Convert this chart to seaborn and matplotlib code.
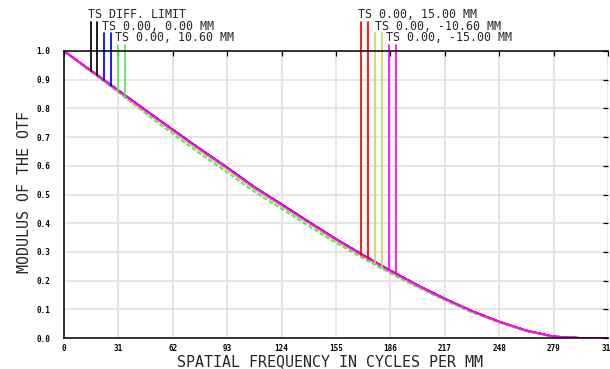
import numpy as np
import pandas as pd
import matplotlib
matplotlib.use("Agg")
import matplotlib.pyplot as plt
import seaborn as sns

# ---------------- data ----------------
freq = [0, 15.5, 31, 46.5, 62, 77.5, 93, 108.5, 124, 139.5, 155, 170.5,
        186, 201.5, 217, 232.5, 248, 263.5, 279, 294.5, 310]

diff_limit = [1.000, 0.931, 0.863, 0.794, 0.726, 0.659, 0.594, 0.526, 0.466, 0.405, 0.345,
              0.289, 0.235, 0.184, 0.137, 0.094, 0.057, 0.026, 0.005, 0.000, 0.000]
f000_T = [1.000, 0.930, 0.861, 0.792, 0.724, 0.657, 0.592, 0.524, 0.464, 0.403, 0.343,
          0.287, 0.233, 0.183, 0.136, 0.093, 0.056, 0.025, 0.005, 0.000, 0.000]
f000_S = [1.000, 0.930, 0.861, 0.792, 0.724, 0.657, 0.592, 0.524, 0.464, 0.403, 0.343,
          0.287, 0.233, 0.183, 0.136, 0.093, 0.056, 0.025, 0.005, 0.000, 0.000]
f1060_T = [1.000, 0.928, 0.858, 0.788, 0.719, 0.652, 0.587, 0.519, 0.459, 0.399, 0.339,
           0.284, 0.230, 0.180, 0.134, 0.091, 0.055, 0.025, 0.004, 0.000, 0.000]
f1060_S = [1.000, 0.927, 0.855, 0.782, 0.711, 0.642, 0.577, 0.509, 0.450, 0.390, 0.331,
           0.277, 0.225, 0.176, 0.131, 0.089, 0.054, 0.024, 0.004, 0.000, 0.000]
f1500_T = [1.000, 0.930, 0.861, 0.792, 0.723, 0.656, 0.591, 0.523, 0.463, 0.402, 0.342,
           0.286, 0.232, 0.182, 0.135, 0.093, 0.056, 0.025, 0.005, 0.000, 0.000]
f1500_S = [1.000, 0.930, 0.860, 0.791, 0.722, 0.655, 0.590, 0.522, 0.462, 0.401, 0.341,
           0.285, 0.232, 0.181, 0.135, 0.092, 0.056, 0.025, 0.005, 0.000, 0.000]
fm1060_T = [1.000, 0.929, 0.859, 0.789, 0.720, 0.653, 0.588, 0.521, 0.461, 0.400, 0.340,
            0.285, 0.231, 0.181, 0.134, 0.092, 0.055, 0.025, 0.004, 0.000, 0.000]
fm1060_S = [1.000, 0.929, 0.858, 0.788, 0.719, 0.652, 0.587, 0.520, 0.460, 0.399, 0.340,
            0.284, 0.231, 0.180, 0.134, 0.092, 0.055, 0.025, 0.004, 0.000, 0.000]
fm1500_T = [1.000, 0.931, 0.862, 0.793, 0.725, 0.658, 0.593, 0.525, 0.465, 0.404, 0.344,
            0.288, 0.234, 0.183, 0.136, 0.094, 0.057, 0.026, 0.005, 0.000, 0.000]
fm1500_S = [1.000, 0.930, 0.861, 0.792, 0.724, 0.657, 0.592, 0.524, 0.464, 0.403, 0.343,
            0.287, 0.233, 0.183, 0.136, 0.093, 0.056, 0.026, 0.005, 0.000, 0.000]

legend_labels = ["TS DIFF. LIMIT", "TS 0.00, 0.00 MM", "TS 0.00, 10.60 MM",
                 "TS 0.00, 15.00 MM", "TS 0.00, -10.60 MM", "TS 0.00, -15.00 MM"]
x_ticks = [0, 31, 62, 93, 124, 155, 186, 217, 248, 279, 310]
x_tick_labels = ["0", "31", "62", "93", "124", "155", "186", "217", "248", "279", "310"]
y_ticks = [0.0, 0.1, 0.2, 0.3, 0.4, 0.5, 0.6, 0.7, 0.8, 0.9, 1.0]
y_tick_labels = ["0.0", "0.1", "0.2", "0.3", "0.4", "0.5", "0.6", "0.7", "0.8", "0.9", "1.0"]

# ---------------- styling ----------------
sns.set_style("white")
plt.rcParams['font.family'] = ['DejaVu Sans Mono', 'DejaVu Sans']

W, H = 610, 369
fig = plt.figure(figsize=(W / 100, H / 100), dpi=100)
ax = fig.add_axes([64 / W, 31 / H, 544 / W, 287 / H])

colors = {"black": "#000000", "blue": "#0000ff", "green": "#55e855",
          "red": "#ff0000", "yellow": "#d2d264", "magenta": "#ff00ff"}

series = [
    (diff_limit, diff_limit, colors["black"]),
    (f000_T, f000_S, colors["blue"]),
    (f1060_T, f1060_S, colors["green"]),
    (f1500_T, f1500_S, colors["red"]),
    (fm1060_T, fm1060_S, colors["yellow"]),
    (fm1500_T, fm1500_S, colors["magenta"]),
]

for t_vals, s_vals, c in series:
    sns.lineplot(x=freq, y=t_vals, color=c, lw=1.3, ax=ax, legend=False)
    sns.lineplot(x=freq, y=s_vals, color=c, lw=1.3, ax=ax, legend=False,
                 dashes=False, linestyle=(0, (2.5, 1.2)))

ax.set_xlim(0, 310)
ax.set_ylim(0, 1.0)
ax.set_xticks(x_ticks)
ax.set_xticklabels(x_tick_labels)
ax.set_yticks(y_ticks)
ax.set_yticklabels(y_tick_labels)
ax.grid(True, color="#e4e4e4", lw=1.3)
ax.set_axisbelow(True)

for side in ["left", "bottom", "top"]:
    ax.spines[side].set_visible(True)
    ax.spines[side].set_color("black")
    ax.spines[side].set_linewidth(1.1)
ax.spines["right"].set_visible(False)

ax.tick_params(axis="both", which="both", direction="in", length=3.6, width=0.9,
               colors="black", top=True, right=True, labelsize=5.5)
ax.tick_params(axis="y", pad=10)
ax.tick_params(axis="x", pad=4.5)
for lab in ax.get_xticklabels() + ax.get_yticklabels():
    lab.set_fontweight("bold")

ax.set_xlabel("")
ax.set_ylabel("")
fig.text(330 / W, 1 - 361.7 / H, "SPATIAL FREQUENCY IN CYCLES PER MM",
         ha="center", va="center", fontsize=10.8)
fig.text(25 / W, 1 - 192 / H, "MODULUS OF THE OTF", rotation=90,
         ha="center", va="center", fontsize=10.8)

# ---------------- header legend ----------------
def px_to_val(py):
    return (338 - py) / 287

legend_rows = [
    # label, text x(px), text y(px), line x positions (data), line top (px), T, S, color
    (legend_labels[0], 88, 14, [15.4, 18.9], 22, diff_limit, diff_limit, colors["black"]),
    (legend_labels[1], 102, 26, [22.8, 26.8], 33, f000_T, f000_S, colors["blue"]),
    (legend_labels[2], 115, 37.5, [30.8, 34.8], 45, f1060_T, f1060_S, colors["green"]),
    (legend_labels[3], 358, 14, [169.2, 173.2], 22, f1500_T, f1500_S, colors["red"]),
    (legend_labels[4], 375, 26, [177.2, 181.2], 33, fm1060_T, fm1060_S, colors["yellow"]),
    (legend_labels[5], 386.5, 37.5, [185.2, 189.0], 45, fm1500_T, fm1500_S, colors["magenta"]),
]
for label, tx, ty, xs, ytop, t_vals, s_vals, c in legend_rows:
    for xv, vals in zip(xs, [t_vals, s_vals]):
        yc = float(np.interp(xv, freq, vals))
        ax.plot([xv, xv], [yc, px_to_val(ytop)], color=c, lw=1.25, clip_on=False)
    fig.text(tx / W, 1 - ty / H, label, ha="left", va="center", fontsize=8.4)

fig.savefig("out.png", dpi=100)
